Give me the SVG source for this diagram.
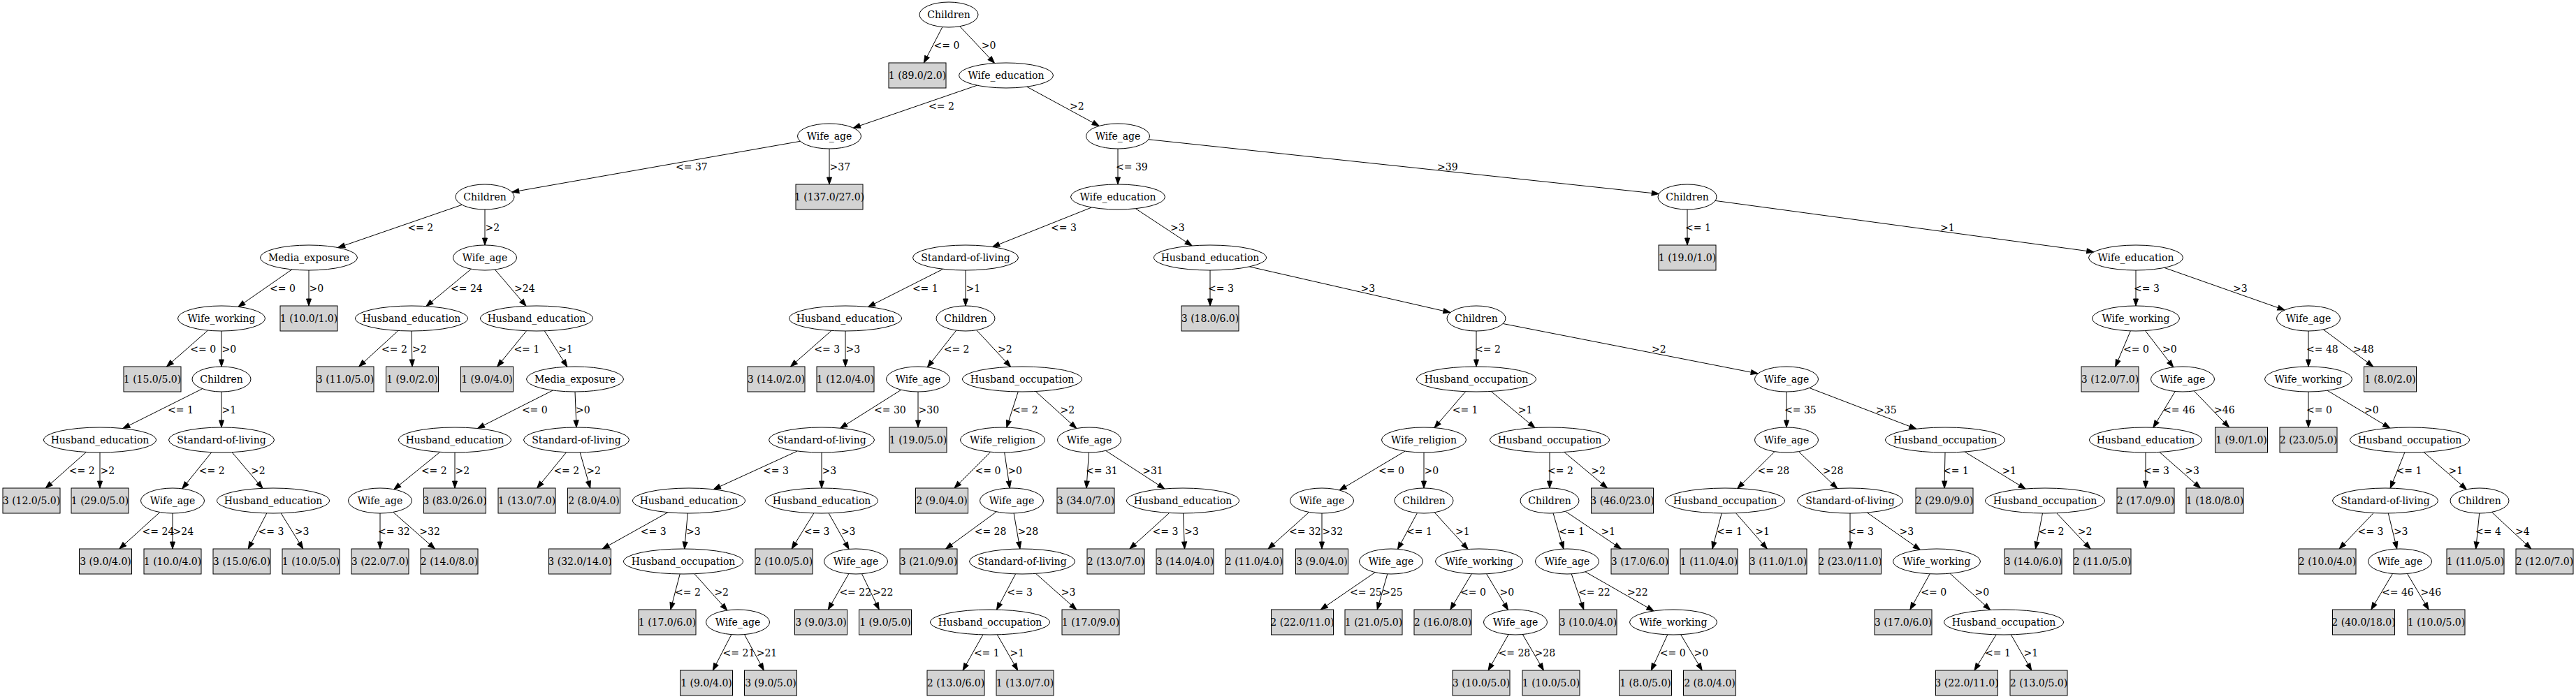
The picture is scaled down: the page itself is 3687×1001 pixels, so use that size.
<svg xmlns="http://www.w3.org/2000/svg" width="3687" height="1001" viewBox="0 0 3687 1001">
<style>
text{font-family:"DejaVu Serif","Liberation Serif",serif;font-size:14px;fill:#000}
.n ellipse{fill:#fff;stroke:#000;stroke-width:1}
.n rect{fill:#d3d3d3;stroke:#000;stroke-width:1}
.n text{text-anchor:middle}
#edges line{stroke:#000;stroke-width:1;marker-end:url(#ah)}
</style>
<defs>
<marker id="ah" markerWidth="10" markerHeight="7" refX="10" refY="3.5" orient="auto" markerUnits="userSpaceOnUse" overflow="visible"><path d="M0,0 L10,3.5 L0,7 Z" fill="#000" stroke="#000" stroke-width="1"/></marker>
</defs>
<rect width="3687" height="1001" fill="#fff"/>
<g id="edges">
<line x1="1348.9" y1="38.6" x2="1322.3" y2="90"/><text x="1336.6" y="69.5">&lt;= 0</text>
<line x1="1373.7" y1="37.7" x2="1423.5" y2="90.5"/><text x="1404.7" y="69.5">&gt;0</text>
<line x1="1398.6" y1="122.2" x2="1221.3" y2="183.2"/><text x="1329" y="156.5">&lt;= 2</text>
<line x1="1469.7" y1="124.2" x2="1573.2" y2="180.4"/><text x="1531" y="156.5">&gt;2</text>
<line x1="1145.4" y1="202.3" x2="732.8" y2="275.1"/><text x="967" y="243.5">&lt;= 37</text>
<line x1="1187" y1="213" x2="1187" y2="264"/><text x="1187.5" y="243.5">&gt;37</text>
<line x1="1600" y1="213" x2="1600" y2="264"/><text x="1597" y="243.5">&lt;= 39</text>
<line x1="1643.9" y1="199.7" x2="2374.2" y2="277.6"/><text x="2057" y="243.5">&gt;39</text>
<line x1="661.3" y1="293.3" x2="483.7" y2="354.6"/><text x="583.4" y="330.5">&lt;= 2</text>
<line x1="694" y1="300" x2="694" y2="351"/><text x="694.5" y="330.5">&gt;2</text>
<line x1="1562.5" y1="297" x2="1420.7" y2="353.5"/><text x="1504" y="330.5">&lt;= 3</text>
<line x1="1625.3" y1="298.7" x2="1706.1" y2="352"/><text x="1675" y="330.5">&gt;3</text>
<line x1="2415" y1="300" x2="2415" y2="351"/><text x="2412" y="330.5">&lt;= 1</text>
<line x1="2455" y1="287.4" x2="2996.8" y2="360.8"/><text x="2777" y="330.5">&gt;1</text>
<line x1="417.8" y1="385.9" x2="340.9" y2="439.4"/><text x="386" y="417.5">&lt;= 0</text>
<line x1="442" y1="387" x2="442" y2="438"/><text x="442.5" y="417.5">&gt;0</text>
<line x1="674.4" y1="385.2" x2="610" y2="438.6"/><text x="645" y="417.5">&lt;= 24</text>
<line x1="708.5" y1="386.1" x2="753" y2="438.3"/><text x="736" y="417.5">&gt;24</text>
<line x1="297.5" y1="473.1" x2="238.5" y2="525"/><text x="272.3" y="504.5">&lt;= 0</text>
<line x1="317" y1="474" x2="317" y2="525"/><text x="317.5" y="504.5">&gt;0</text>
<line x1="289.7" y1="556.7" x2="175.9" y2="613.6"/><text x="240" y="591.5">&lt;= 1</text>
<line x1="317" y1="561" x2="317" y2="612"/><text x="317.5" y="591.5">&gt;1</text>
<line x1="123.3" y1="647.5" x2="65.3" y2="699"/><text x="98.8" y="678.5">&lt;= 2</text>
<line x1="143" y1="648" x2="143" y2="699"/><text x="143.5" y="678.5">&gt;2</text>
<line x1="302.8" y1="647.7" x2="260.8" y2="699.8"/><text x="284.8" y="678.5">&lt;= 2</text>
<line x1="332" y1="647.6" x2="376" y2="699.3"/><text x="359.1" y="678.5">&gt;2</text>
<line x1="228.8" y1="733.5" x2="170.9" y2="786"/><text x="203.6" y="765.5">&lt;= 24</text>
<line x1="247" y1="735" x2="247" y2="786"/><text x="247.5" y="765.5">&gt;24</text>
<line x1="381.8" y1="734.9" x2="355.3" y2="786"/><text x="369.6" y="765.5">&lt;= 3</text>
<line x1="402.1" y1="734.8" x2="433.8" y2="786"/><text x="421.7" y="765.5">&gt;3</text>
<line x1="569.9" y1="473.5" x2="513.7" y2="525"/><text x="546" y="504.5">&lt;= 2</text>
<line x1="589" y1="474" x2="590" y2="525"/><text x="590" y="504.5">&gt;2</text>
<line x1="753.6" y1="473.7" x2="711.7" y2="525"/><text x="735.4" y="504.5">&lt;= 1</text>
<line x1="779.3" y1="473.8" x2="811.8" y2="525.2"/><text x="799.3" y="504.5">&gt;1</text>
<line x1="791.3" y1="559" x2="683.5" y2="613.5"/><text x="746.9" y="591.5">&lt;= 0</text>
<line x1="823" y1="561" x2="825" y2="612"/><text x="824" y="591.5">&gt;0</text>
<line x1="629.7" y1="647.4" x2="563.9" y2="700.8"/><text x="602.9" y="678.5">&lt;= 2</text>
<line x1="651" y1="648" x2="651" y2="699"/><text x="651.5" y="678.5">&gt;2</text>
<line x1="810.6" y1="647.7" x2="768.7" y2="699"/><text x="792.4" y="678.5">&lt;= 2</text>
<line x1="830.2" y1="648" x2="844.8" y2="699"/><text x="839.2" y="678.5">&gt;2</text>
<line x1="544" y1="735" x2="544" y2="786"/><text x="541" y="765.5">&lt;= 32</text>
<line x1="562.7" y1="733.4" x2="622.5" y2="786"/><text x="600.3" y="765.5">&gt;32</text>
<line x1="1349.8" y1="385.3" x2="1242.5" y2="439.5"/><text x="1305.9" y="417.5">&lt;= 1</text>
<line x1="1382" y1="387" x2="1382" y2="438"/><text x="1382.5" y="417.5">&gt;1</text>
<line x1="1732" y1="387" x2="1732" y2="438"/><text x="1729" y="417.5">&lt;= 3</text>
<line x1="1788.3" y1="381.9" x2="2075.9" y2="447.5"/><text x="1947.5" y="417.5">&gt;3</text>
<line x1="1190.1" y1="473.4" x2="1131.5" y2="525"/><text x="1165.3" y="504.5">&lt;= 3</text>
<line x1="1210" y1="474" x2="1210" y2="525"/><text x="1210.5" y="504.5">&gt;3</text>
<line x1="1368.7" y1="473.1" x2="1327.4" y2="525.8"/><text x="1350.7" y="504.5">&lt;= 2</text>
<line x1="1397.6" y1="472.7" x2="1446.6" y2="525.3"/><text x="1428.1" y="504.5">&gt;2</text>
<line x1="1289.8" y1="558.3" x2="1202.7" y2="613.2"/><text x="1251" y="591.5">&lt;= 30</text>
<line x1="1314" y1="561" x2="1314" y2="612"/><text x="1314.5" y="591.5">&gt;30</text>
<line x1="1457.2" y1="561" x2="1440.8" y2="612.1"/><text x="1448.9" y="591.5">&lt;= 2</text>
<line x1="1482.3" y1="560.5" x2="1540.8" y2="613.5"/><text x="1517.6" y="591.5">&gt;2</text>
<line x1="1141.1" y1="646" x2="1021.3" y2="700.8"/><text x="1092.1" y="678.5">&lt;= 3</text>
<line x1="1176" y1="648" x2="1176" y2="699"/><text x="1176.5" y="678.5">&gt;3</text>
<line x1="956" y1="733.7" x2="862.3" y2="786"/><text x="916.8" y="765.5">&lt;= 3</text>
<line x1="984.3" y1="735" x2="979.7" y2="786"/><text x="982" y="765.5">&gt;3</text>
<line x1="973.2" y1="822" x2="959.8" y2="873"/><text x="966.1" y="852.5">&lt;= 2</text>
<line x1="993.9" y1="821.7" x2="1040.8" y2="874"/><text x="1022.4" y="852.5">&gt;2</text>
<line x1="1046.9" y1="908.6" x2="1020.3" y2="960"/><text x="1034.6" y="939.5">&lt;= 21</text>
<line x1="1065.5" y1="908.6" x2="1093.3" y2="960"/><text x="1082.7" y="939.5">&gt;21</text>
<line x1="1164.9" y1="734.8" x2="1133.2" y2="786"/><text x="1150.7" y="765.5">&lt;= 3</text>
<line x1="1186.1" y1="734.9" x2="1215.1" y2="786.4"/><text x="1203.9" y="765.5">&gt;3</text>
<line x1="1214.9" y1="821.5" x2="1185.3" y2="873"/><text x="1201.4" y="852.5">&lt;= 22</text>
<line x1="1233.5" y1="821.7" x2="1258.3" y2="873"/><text x="1248.9" y="852.5">&gt;22</text>
<line x1="1417.7" y1="647.3" x2="1366" y2="699"/><text x="1395.5" y="678.5">&lt;= 0</text>
<line x1="1437.7" y1="648" x2="1445.3" y2="699"/><text x="1442.4" y="678.5">&gt;0</text>
<line x1="1558.5" y1="648" x2="1555" y2="699"/><text x="1554" y="678.5">&lt;= 31</text>
<line x1="1582.7" y1="645.4" x2="1666.8" y2="700"/><text x="1635.2" y="678.5">&gt;31</text>
<line x1="1426.3" y1="732.8" x2="1353.6" y2="786"/><text x="1394.7" y="765.5">&lt;= 28</text>
<line x1="1451.1" y1="735" x2="1459.9" y2="786"/><text x="1456.5" y="765.5">&gt;28</text>
<line x1="1453.6" y1="821.9" x2="1426.5" y2="873.1"/><text x="1441.2" y="852.5">&lt;= 3</text>
<line x1="1482.6" y1="821.4" x2="1540.7" y2="873"/><text x="1518.8" y="852.5">&gt;3</text>
<line x1="1406.9" y1="908.9" x2="1378.1" y2="960"/><text x="1393.9" y="939.5">&lt;= 1</text>
<line x1="1427.3" y1="908.9" x2="1456.7" y2="960"/><text x="1445.5" y="939.5">&gt;1</text>
<line x1="1673.7" y1="734.5" x2="1616.9" y2="786"/><text x="1649.6" y="765.5">&lt;= 3</text>
<line x1="1693.5" y1="735" x2="1695.5" y2="786"/><text x="1695" y="765.5">&gt;3</text>
<line x1="2113" y1="474" x2="2113" y2="525"/><text x="2111" y="504.5">&lt;= 2</text>
<line x1="2151.2" y1="463.5" x2="2516.2" y2="535"/><text x="2364" y="504.5">&gt;2</text>
<line x1="2097.7" y1="560.7" x2="2053" y2="612.6"/><text x="2078.7" y="591.5">&lt;= 1</text>
<line x1="2134.1" y1="560.4" x2="2196.9" y2="612.6"/><text x="2172.7" y="591.5">&gt;1</text>
<line x1="2557" y1="561" x2="2557" y2="612"/><text x="2554" y="591.5">&lt;= 35</text>
<line x1="2589.7" y1="555.5" x2="2742.8" y2="614.2"/><text x="2685" y="591.5">&gt;35</text>
<line x1="2011" y1="646.1" x2="1917.2" y2="702"/><text x="1973.1" y="678.5">&lt;= 0</text>
<line x1="2038" y1="648" x2="2038" y2="699"/><text x="2038.5" y="678.5">&gt;0</text>
<line x1="2218" y1="648" x2="2218" y2="699"/><text x="2215" y="678.5">&lt;= 2</text>
<line x1="2238.9" y1="647.5" x2="2300.5" y2="699"/><text x="2277.2" y="678.5">&gt;2</text>
<line x1="1873.6" y1="733.5" x2="1815.1" y2="786"/><text x="1845" y="765.5">&lt;= 32</text>
<line x1="1892" y1="735" x2="1892" y2="786"/><text x="1892.5" y="765.5">&gt;32</text>
<line x1="2028.5" y1="734.5" x2="2000.5" y2="786.4"/><text x="2013" y="765.5">&lt;= 1</text>
<line x1="2053.2" y1="733.8" x2="2101.2" y2="786.6"/><text x="2083" y="765.5">&gt;1</text>
<line x1="1968.2" y1="819.6" x2="1890.3" y2="873"/><text x="1932" y="852.5">&lt;= 25</text>
<line x1="1985.8" y1="822" x2="1971.2" y2="873"/><text x="1978.2" y="852.5">&gt;25</text>
<line x1="2106.4" y1="821.7" x2="2075.8" y2="873"/><text x="2090" y="852.5">&lt;= 0</text>
<line x1="2127.6" y1="821.7" x2="2158.5" y2="873.5"/><text x="2146.6" y="852.5">&gt;0</text>
<line x1="2159.1" y1="908.6" x2="2130.1" y2="960"/><text x="2144.5" y="939.5">&lt;= 28</text>
<line x1="2179.3" y1="908.5" x2="2209.4" y2="960"/><text x="2196.5" y="939.5">&gt;28</text>
<line x1="2223.1" y1="735" x2="2237.9" y2="786.1"/><text x="2231" y="765.5">&lt;= 1</text>
<line x1="2240.5" y1="732.2" x2="2320.3" y2="786"/><text x="2291.4" y="765.5">&gt;1</text>
<line x1="2249.2" y1="821.8" x2="2266.8" y2="873"/><text x="2259" y="852.5">&lt;= 22</text>
<line x1="2268.9" y1="818.8" x2="2366.9" y2="874.9"/><text x="2329" y="852.5">&gt;22</text>
<line x1="2386.8" y1="908.8" x2="2363.3" y2="960"/><text x="2375.8" y="939.5">&lt;= 0</text>
<line x1="2405.6" y1="908.7" x2="2436.2" y2="960"/><text x="2424.6" y="939.5">&gt;0</text>
<line x1="2540.1" y1="646.7" x2="2486.8" y2="699.4"/><text x="2515.5" y="678.5">&lt;= 28</text>
<line x1="2574.4" y1="646.6" x2="2629.7" y2="699.5"/><text x="2608.8" y="678.5">&gt;28</text>
<line x1="2784" y1="648" x2="2783" y2="699"/><text x="2781" y="678.5">&lt;= 1</text>
<line x1="2812" y1="647" x2="2899" y2="700"/><text x="2865.4" y="678.5">&gt;1</text>
<line x1="2464.2" y1="735" x2="2450.8" y2="786"/><text x="2457.1" y="765.5">&lt;= 1</text>
<line x1="2484.5" y1="734.7" x2="2529.3" y2="786"/><text x="2512.2" y="765.5">&gt;1</text>
<line x1="2648" y1="735" x2="2648" y2="786"/><text x="2645" y="765.5">&lt;= 3</text>
<line x1="2672.3" y1="734" x2="2748.3" y2="787.3"/><text x="2718.6" y="765.5">&gt;3</text>
<line x1="2762.2" y1="821.8" x2="2733.9" y2="873"/><text x="2749.3" y="852.5">&lt;= 0</text>
<line x1="2790.9" y1="821.2" x2="2848.7" y2="873.5"/><text x="2826.6" y="852.5">&gt;0</text>
<line x1="2857.1" y1="908.9" x2="2826" y2="960"/><text x="2841" y="939.5">&lt;= 1</text>
<line x1="2878.3" y1="908.9" x2="2907.7" y2="960"/><text x="2896.5" y="939.5">&gt;1</text>
<line x1="2923.5" y1="735" x2="2913.5" y2="786"/><text x="2917.7" y="765.5">&lt;= 2</text>
<line x1="2943.6" y1="734.7" x2="2992" y2="786"/><text x="2973.7" y="765.5">&gt;2</text>
<line x1="3057" y1="387" x2="3057" y2="438"/><text x="3054" y="417.5">&lt;= 3</text>
<line x1="3097.8" y1="383.4" x2="3270" y2="444"/><text x="3196" y="417.5">&gt;3</text>
<line x1="3049.4" y1="473.9" x2="3027.7" y2="525"/><text x="3039.1" y="504.5">&lt;= 0</text>
<line x1="3070.5" y1="473.6" x2="3110.7" y2="525.8"/><text x="3095.1" y="504.5">&gt;0</text>
<line x1="3304" y1="474" x2="3304" y2="525"/><text x="3301" y="504.5">&lt;= 48</text>
<line x1="3325.4" y1="471.9" x2="3396.8" y2="525"/><text x="3368" y="504.5">&gt;48</text>
<line x1="3113.3" y1="560.5" x2="3081.9" y2="612.2"/><text x="3096" y="591.5">&lt;= 46</text>
<line x1="3140.2" y1="559.8" x2="3190.6" y2="612"/><text x="3169" y="591.5">&gt;46</text>
<line x1="3071" y1="648" x2="3071" y2="699"/><text x="3068" y="678.5">&lt;= 3</text>
<line x1="3090.8" y1="647.4" x2="3149.5" y2="699"/><text x="3127.3" y="678.5">&gt;3</text>
<line x1="3304" y1="561" x2="3304" y2="612"/><text x="3301" y="591.5">&lt;= 0</text>
<line x1="3331" y1="559.2" x2="3420.7" y2="613"/><text x="3384" y="591.5">&gt;0</text>
<line x1="3441.8" y1="648" x2="3421.2" y2="699.1"/><text x="3429.5" y="678.5">&lt;= 1</text>
<line x1="3469.1" y1="647.5" x2="3530.4" y2="700.9"/><text x="3504.5" y="678.5">&gt;1</text>
<line x1="3397.3" y1="734.5" x2="3348.2" y2="786"/><text x="3374.5" y="765.5">&lt;= 3</text>
<line x1="3418.3" y1="735" x2="3430.7" y2="786"/><text x="3425.9" y="765.5">&gt;3</text>
<line x1="3548.7" y1="735" x2="3543.7" y2="786"/><text x="3543" y="765.5">&lt;= 4</text>
<line x1="3566.5" y1="733.4" x2="3622.8" y2="786"/><text x="3600" y="765.5">&gt;4</text>
<line x1="3424.5" y1="821.5" x2="3393.8" y2="873"/><text x="3409" y="852.5">&lt;= 46</text>
<line x1="3445.5" y1="821.5" x2="3476.2" y2="873"/><text x="3464.6" y="852.5">&gt;46</text>
</g>
<g id="n0" class="n"><ellipse cx="1358" cy="21" rx="42" ry="18"/><text x="1358" y="26">Children</text></g>
<g id="n1" class="n"><rect x="1272" y="90" width="82" height="36"/><text x="1313" y="113">1 (89.0/2.0)</text></g>
<g id="n2" class="n"><ellipse cx="1440" cy="108" rx="67.5" ry="18"/><text x="1440" y="113">Wife_education</text></g>
<g id="n3" class="n"><ellipse cx="1187" cy="195" rx="45.5" ry="18"/><text x="1187" y="200">Wife_age</text></g>
<g id="n4" class="n"><ellipse cx="1600" cy="195" rx="45.5" ry="18"/><text x="1600" y="200">Wife_age</text></g>
<g id="n5" class="n"><ellipse cx="694" cy="282" rx="42" ry="18"/><text x="694" y="287">Children</text></g>
<g id="n6" class="n"><rect x="1139" y="264" width="96" height="36"/><text x="1187" y="287">1 (137.0/27.0)</text></g>
<g id="n7" class="n"><ellipse cx="1600" cy="282" rx="67.5" ry="18"/><text x="1600" y="287">Wife_education</text></g>
<g id="n8" class="n"><ellipse cx="2415" cy="282" rx="42" ry="18"/><text x="2415" y="287">Children</text></g>
<g id="n9" class="n"><ellipse cx="442" cy="369" rx="69.5" ry="18"/><text x="442" y="374">Media_exposure</text></g>
<g id="n10" class="n"><ellipse cx="694" cy="369" rx="45.5" ry="18"/><text x="694" y="374">Wife_age</text></g>
<g id="n11" class="n"><ellipse cx="317" cy="456" rx="62.5" ry="18"/><text x="317" y="461">Wife_working</text></g>
<g id="n12" class="n"><rect x="401" y="438" width="82" height="36"/><text x="442" y="461">1 (10.0/1.0)</text></g>
<g id="n13" class="n"><rect x="177" y="525" width="82" height="36"/><text x="218" y="548">1 (15.0/5.0)</text></g>
<g id="n14" class="n"><ellipse cx="317" cy="543" rx="42" ry="18"/><text x="317" y="548">Children</text></g>
<g id="n15" class="n"><ellipse cx="143" cy="630" rx="80.5" ry="18"/><text x="143" y="635">Husband_education</text></g>
<g id="n16" class="n"><ellipse cx="317" cy="630" rx="75.5" ry="18"/><text x="317" y="635">Standard-of-living</text></g>
<g id="n17" class="n"><rect x="4" y="699" width="82" height="36"/><text x="45" y="722">3 (12.0/5.0)</text></g>
<g id="n18" class="n"><rect x="102" y="699" width="82" height="36"/><text x="143" y="722">1 (29.0/5.0)</text></g>
<g id="n19" class="n"><ellipse cx="247" cy="717" rx="45.5" ry="18"/><text x="247" y="722">Wife_age</text></g>
<g id="n20" class="n"><ellipse cx="391" cy="717" rx="80.5" ry="18"/><text x="391" y="722">Husband_education</text></g>
<g id="n21" class="n"><rect x="113.5" y="786" width="75" height="36"/><text x="151" y="809">3 (9.0/4.0)</text></g>
<g id="n22" class="n"><rect x="206" y="786" width="82" height="36"/><text x="247" y="809">1 (10.0/4.0)</text></g>
<g id="n23" class="n"><rect x="305" y="786" width="82" height="36"/><text x="346" y="809">3 (15.0/6.0)</text></g>
<g id="n24" class="n"><rect x="404" y="786" width="82" height="36"/><text x="445" y="809">1 (10.0/5.0)</text></g>
<g id="n25" class="n"><ellipse cx="589" cy="456" rx="80.5" ry="18"/><text x="589" y="461">Husband_education</text></g>
<g id="n26" class="n"><ellipse cx="768" cy="456" rx="80.5" ry="18"/><text x="768" y="461">Husband_education</text></g>
<g id="n27" class="n"><rect x="453" y="525" width="82" height="36"/><text x="494" y="548">3 (11.0/5.0)</text></g>
<g id="n28" class="n"><rect x="552.5" y="525" width="75" height="36"/><text x="590" y="548">1 (9.0/2.0)</text></g>
<g id="n29" class="n"><rect x="659.5" y="525" width="75" height="36"/><text x="697" y="548">1 (9.0/4.0)</text></g>
<g id="n30" class="n"><ellipse cx="823" cy="543" rx="69.5" ry="18"/><text x="823" y="548">Media_exposure</text></g>
<g id="n31" class="n"><ellipse cx="651" cy="630" rx="80.5" ry="18"/><text x="651" y="635">Husband_education</text></g>
<g id="n32" class="n"><ellipse cx="825" cy="630" rx="75.5" ry="18"/><text x="825" y="635">Standard-of-living</text></g>
<g id="n33" class="n"><ellipse cx="544" cy="717" rx="45.5" ry="18"/><text x="544" y="722">Wife_age</text></g>
<g id="n34" class="n"><rect x="606.5" y="699" width="89" height="36"/><text x="651" y="722">3 (83.0/26.0)</text></g>
<g id="n35" class="n"><rect x="503" y="786" width="82" height="36"/><text x="544" y="809">3 (22.0/7.0)</text></g>
<g id="n36" class="n"><rect x="602" y="786" width="82" height="36"/><text x="643" y="809">2 (14.0/8.0)</text></g>
<g id="n37" class="n"><rect x="713" y="699" width="82" height="36"/><text x="754" y="722">1 (13.0/7.0)</text></g>
<g id="n38" class="n"><rect x="812.5" y="699" width="75" height="36"/><text x="850" y="722">2 (8.0/4.0)</text></g>
<g id="n39" class="n"><ellipse cx="1382" cy="369" rx="75.5" ry="18"/><text x="1382" y="374">Standard-of-living</text></g>
<g id="n40" class="n"><ellipse cx="1732" cy="369" rx="80.5" ry="18"/><text x="1732" y="374">Husband_education</text></g>
<g id="n41" class="n"><ellipse cx="1210" cy="456" rx="80.5" ry="18"/><text x="1210" y="461">Husband_education</text></g>
<g id="n42" class="n"><ellipse cx="1382" cy="456" rx="42" ry="18"/><text x="1382" y="461">Children</text></g>
<g id="n43" class="n"><rect x="1070" y="525" width="82" height="36"/><text x="1111" y="548">3 (14.0/2.0)</text></g>
<g id="n44" class="n"><rect x="1169" y="525" width="82" height="36"/><text x="1210" y="548">1 (12.0/4.0)</text></g>
<g id="n45" class="n"><ellipse cx="1314" cy="543" rx="45.5" ry="18"/><text x="1314" y="548">Wife_age</text></g>
<g id="n46" class="n"><ellipse cx="1463" cy="543" rx="85.5" ry="18"/><text x="1463" y="548">Husband_occupation</text></g>
<g id="n47" class="n"><ellipse cx="1176" cy="630" rx="75.5" ry="18"/><text x="1176" y="635">Standard-of-living</text></g>
<g id="n48" class="n"><rect x="1273" y="612" width="82" height="36"/><text x="1314" y="635">1 (19.0/5.0)</text></g>
<g id="n49" class="n"><ellipse cx="986" cy="717" rx="80.5" ry="18"/><text x="986" y="722">Husband_education</text></g>
<g id="n50" class="n"><ellipse cx="1176" cy="717" rx="80.5" ry="18"/><text x="1176" y="722">Husband_education</text></g>
<g id="n51" class="n"><rect x="785.5" y="786" width="89" height="36"/><text x="830" y="809">3 (32.0/14.0)</text></g>
<g id="n52" class="n"><ellipse cx="978" cy="804" rx="85.5" ry="18"/><text x="978" y="809">Husband_occupation</text></g>
<g id="n53" class="n"><rect x="914" y="873" width="82" height="36"/><text x="955" y="896">1 (17.0/6.0)</text></g>
<g id="n54" class="n"><ellipse cx="1056" cy="891" rx="45.5" ry="18"/><text x="1056" y="896">Wife_age</text></g>
<g id="n55" class="n"><rect x="973.5" y="960" width="75" height="36"/><text x="1011" y="983">1 (9.0/4.0)</text></g>
<g id="n56" class="n"><rect x="1065.5" y="960" width="75" height="36"/><text x="1103" y="983">3 (9.0/5.0)</text></g>
<g id="n57" class="n"><rect x="1081" y="786" width="82" height="36"/><text x="1122" y="809">2 (10.0/5.0)</text></g>
<g id="n58" class="n"><ellipse cx="1225" cy="804" rx="45.5" ry="18"/><text x="1225" y="809">Wife_age</text></g>
<g id="n59" class="n"><rect x="1137.5" y="873" width="75" height="36"/><text x="1175" y="896">3 (9.0/3.0)</text></g>
<g id="n60" class="n"><rect x="1229.5" y="873" width="75" height="36"/><text x="1267" y="896">1 (9.0/5.0)</text></g>
<g id="n61" class="n"><ellipse cx="1435" cy="630" rx="60.5" ry="18"/><text x="1435" y="635">Wife_religion</text></g>
<g id="n62" class="n"><ellipse cx="1559" cy="630" rx="45.5" ry="18"/><text x="1559" y="635">Wife_age</text></g>
<g id="n63" class="n"><rect x="1310.5" y="699" width="75" height="36"/><text x="1348" y="722">2 (9.0/4.0)</text></g>
<g id="n64" class="n"><ellipse cx="1448" cy="717" rx="45.5" ry="18"/><text x="1448" y="722">Wife_age</text></g>
<g id="n65" class="n"><rect x="1288" y="786" width="82" height="36"/><text x="1329" y="809">3 (21.0/9.0)</text></g>
<g id="n66" class="n"><ellipse cx="1463" cy="804" rx="75.5" ry="18"/><text x="1463" y="809">Standard-of-living</text></g>
<g id="n67" class="n"><ellipse cx="1417" cy="891" rx="85.5" ry="18"/><text x="1417" y="896">Husband_occupation</text></g>
<g id="n68" class="n"><rect x="1520" y="873" width="82" height="36"/><text x="1561" y="896">1 (17.0/9.0)</text></g>
<g id="n69" class="n"><rect x="1327" y="960" width="82" height="36"/><text x="1368" y="983">2 (13.0/6.0)</text></g>
<g id="n70" class="n"><rect x="1426" y="960" width="82" height="36"/><text x="1467" y="983">1 (13.0/7.0)</text></g>
<g id="n71" class="n"><rect x="1513" y="699" width="82" height="36"/><text x="1554" y="722">3 (34.0/7.0)</text></g>
<g id="n72" class="n"><ellipse cx="1693" cy="717" rx="80.5" ry="18"/><text x="1693" y="722">Husband_education</text></g>
<g id="n73" class="n"><rect x="1556" y="786" width="82" height="36"/><text x="1597" y="809">2 (13.0/7.0)</text></g>
<g id="n74" class="n"><rect x="1655" y="786" width="82" height="36"/><text x="1696" y="809">3 (14.0/4.0)</text></g>
<g id="n75" class="n"><rect x="1691" y="438" width="82" height="36"/><text x="1732" y="461">3 (18.0/6.0)</text></g>
<g id="n76" class="n"><ellipse cx="2113" cy="456" rx="42" ry="18"/><text x="2113" y="461">Children</text></g>
<g id="n77" class="n"><ellipse cx="2113" cy="543" rx="85.5" ry="18"/><text x="2113" y="548">Husband_occupation</text></g>
<g id="n78" class="n"><ellipse cx="2557" cy="543" rx="45.5" ry="18"/><text x="2557" y="548">Wife_age</text></g>
<g id="n79" class="n"><ellipse cx="2038" cy="630" rx="60.5" ry="18"/><text x="2038" y="635">Wife_religion</text></g>
<g id="n80" class="n"><ellipse cx="2218" cy="630" rx="85.5" ry="18"/><text x="2218" y="635">Husband_occupation</text></g>
<g id="n81" class="n"><ellipse cx="1892" cy="717" rx="45.5" ry="18"/><text x="1892" y="722">Wife_age</text></g>
<g id="n82" class="n"><ellipse cx="2038" cy="717" rx="42" ry="18"/><text x="2038" y="722">Children</text></g>
<g id="n83" class="n"><rect x="1754" y="786" width="82" height="36"/><text x="1795" y="809">2 (11.0/4.0)</text></g>
<g id="n84" class="n"><rect x="1854.5" y="786" width="75" height="36"/><text x="1892" y="809">3 (9.0/4.0)</text></g>
<g id="n85" class="n"><ellipse cx="1991" cy="804" rx="45.5" ry="18"/><text x="1991" y="809">Wife_age</text></g>
<g id="n86" class="n"><ellipse cx="2117" cy="804" rx="62.5" ry="18"/><text x="2117" y="809">Wife_working</text></g>
<g id="n87" class="n"><rect x="1819.5" y="873" width="89" height="36"/><text x="1864" y="896">2 (22.0/11.0)</text></g>
<g id="n88" class="n"><rect x="1925" y="873" width="82" height="36"/><text x="1966" y="896">1 (21.0/5.0)</text></g>
<g id="n89" class="n"><rect x="2024" y="873" width="82" height="36"/><text x="2065" y="896">2 (16.0/8.0)</text></g>
<g id="n90" class="n"><ellipse cx="2169" cy="891" rx="45.5" ry="18"/><text x="2169" y="896">Wife_age</text></g>
<g id="n91" class="n"><rect x="2079" y="960" width="82" height="36"/><text x="2120" y="983">3 (10.0/5.0)</text></g>
<g id="n92" class="n"><rect x="2179" y="960" width="82" height="36"/><text x="2220" y="983">1 (10.0/5.0)</text></g>
<g id="n93" class="n"><ellipse cx="2218" cy="717" rx="42" ry="18"/><text x="2218" y="722">Children</text></g>
<g id="n94" class="n"><rect x="2277.5" y="699" width="89" height="36"/><text x="2322" y="722">3 (46.0/23.0)</text></g>
<g id="n95" class="n"><ellipse cx="2243" cy="804" rx="45.5" ry="18"/><text x="2243" y="809">Wife_age</text></g>
<g id="n96" class="n"><rect x="2306" y="786" width="82" height="36"/><text x="2347" y="809">3 (17.0/6.0)</text></g>
<g id="n97" class="n"><rect x="2232" y="873" width="82" height="36"/><text x="2273" y="896">3 (10.0/4.0)</text></g>
<g id="n98" class="n"><ellipse cx="2395" cy="891" rx="62.5" ry="18"/><text x="2395" y="896">Wife_working</text></g>
<g id="n99" class="n"><rect x="2317.5" y="960" width="75" height="36"/><text x="2355" y="983">1 (8.0/5.0)</text></g>
<g id="n100" class="n"><rect x="2409.5" y="960" width="75" height="36"/><text x="2447" y="983">2 (8.0/4.0)</text></g>
<g id="n101" class="n"><ellipse cx="2557" cy="630" rx="45.5" ry="18"/><text x="2557" y="635">Wife_age</text></g>
<g id="n102" class="n"><ellipse cx="2784" cy="630" rx="85.5" ry="18"/><text x="2784" y="635">Husband_occupation</text></g>
<g id="n103" class="n"><ellipse cx="2469" cy="717" rx="85.5" ry="18"/><text x="2469" y="722">Husband_occupation</text></g>
<g id="n104" class="n"><ellipse cx="2648" cy="717" rx="75.5" ry="18"/><text x="2648" y="722">Standard-of-living</text></g>
<g id="n105" class="n"><rect x="2405" y="786" width="82" height="36"/><text x="2446" y="809">1 (11.0/4.0)</text></g>
<g id="n106" class="n"><rect x="2504" y="786" width="82" height="36"/><text x="2545" y="809">3 (11.0/1.0)</text></g>
<g id="n107" class="n"><rect x="2603.5" y="786" width="89" height="36"/><text x="2648" y="809">2 (23.0/11.0)</text></g>
<g id="n108" class="n"><ellipse cx="2772" cy="804" rx="62.5" ry="18"/><text x="2772" y="809">Wife_working</text></g>
<g id="n109" class="n"><rect x="2683" y="873" width="82" height="36"/><text x="2724" y="896">3 (17.0/6.0)</text></g>
<g id="n110" class="n"><ellipse cx="2868" cy="891" rx="85.5" ry="18"/><text x="2868" y="896">Husband_occupation</text></g>
<g id="n111" class="n"><rect x="2770.5" y="960" width="89" height="36"/><text x="2815" y="983">3 (22.0/11.0)</text></g>
<g id="n112" class="n"><rect x="2877" y="960" width="82" height="36"/><text x="2918" y="983">2 (13.0/5.0)</text></g>
<g id="n113" class="n"><rect x="2742" y="699" width="82" height="36"/><text x="2783" y="722">2 (29.0/9.0)</text></g>
<g id="n114" class="n"><ellipse cx="2927" cy="717" rx="85.5" ry="18"/><text x="2927" y="722">Husband_occupation</text></g>
<g id="n115" class="n"><rect x="2869" y="786" width="82" height="36"/><text x="2910" y="809">3 (14.0/6.0)</text></g>
<g id="n116" class="n"><rect x="2968" y="786" width="82" height="36"/><text x="3009" y="809">2 (11.0/5.0)</text></g>
<g id="n117" class="n"><rect x="2374" y="351" width="82" height="36"/><text x="2415" y="374">1 (19.0/1.0)</text></g>
<g id="n118" class="n"><ellipse cx="3057" cy="369" rx="67.5" ry="18"/><text x="3057" y="374">Wife_education</text></g>
<g id="n119" class="n"><ellipse cx="3057" cy="456" rx="62.5" ry="18"/><text x="3057" y="461">Wife_working</text></g>
<g id="n120" class="n"><ellipse cx="3304" cy="456" rx="45.5" ry="18"/><text x="3304" y="461">Wife_age</text></g>
<g id="n121" class="n"><rect x="2979" y="525" width="82" height="36"/><text x="3020" y="548">3 (12.0/7.0)</text></g>
<g id="n122" class="n"><ellipse cx="3124" cy="543" rx="45.5" ry="18"/><text x="3124" y="548">Wife_age</text></g>
<g id="n123" class="n"><ellipse cx="3071" cy="630" rx="80.5" ry="18"/><text x="3071" y="635">Husband_education</text></g>
<g id="n124" class="n"><rect x="3170.5" y="612" width="75" height="36"/><text x="3208" y="635">1 (9.0/1.0)</text></g>
<g id="n125" class="n"><rect x="3030" y="699" width="82" height="36"/><text x="3071" y="722">2 (17.0/9.0)</text></g>
<g id="n126" class="n"><rect x="3129" y="699" width="82" height="36"/><text x="3170" y="722">1 (18.0/8.0)</text></g>
<g id="n127" class="n"><ellipse cx="3304" cy="543" rx="62.5" ry="18"/><text x="3304" y="548">Wife_working</text></g>
<g id="n128" class="n"><rect x="3383.5" y="525" width="75" height="36"/><text x="3421" y="548">1 (8.0/2.0)</text></g>
<g id="n129" class="n"><rect x="3263" y="612" width="82" height="36"/><text x="3304" y="635">2 (23.0/5.0)</text></g>
<g id="n130" class="n"><ellipse cx="3449" cy="630" rx="85.5" ry="18"/><text x="3449" y="635">Husband_occupation</text></g>
<g id="n131" class="n"><ellipse cx="3414" cy="717" rx="75.5" ry="18"/><text x="3414" y="722">Standard-of-living</text></g>
<g id="n132" class="n"><ellipse cx="3549" cy="717" rx="42" ry="18"/><text x="3549" y="722">Children</text></g>
<g id="n133" class="n"><rect x="3290" y="786" width="82" height="36"/><text x="3331" y="809">2 (10.0/4.0)</text></g>
<g id="n134" class="n"><ellipse cx="3435" cy="804" rx="45.5" ry="18"/><text x="3435" y="809">Wife_age</text></g>
<g id="n135" class="n"><rect x="3338.5" y="873" width="89" height="36"/><text x="3383" y="896">2 (40.0/18.0)</text></g>
<g id="n136" class="n"><rect x="3446" y="873" width="82" height="36"/><text x="3487" y="896">1 (10.0/5.0)</text></g>
<g id="n137" class="n"><rect x="3502" y="786" width="82" height="36"/><text x="3543" y="809">1 (11.0/5.0)</text></g>
<g id="n138" class="n"><rect x="3601" y="786" width="82" height="36"/><text x="3642" y="809">2 (12.0/7.0)</text></g>
</svg>
